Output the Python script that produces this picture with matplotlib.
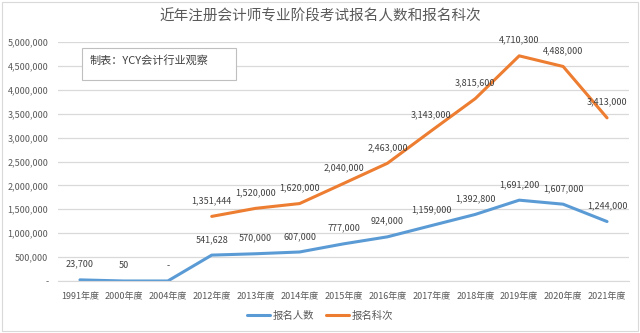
import matplotlib
matplotlib.use("Agg")
from matplotlib import pyplot as plt
from matplotlib.patches import Rectangle

plt.rcParams['font.family'] = ['Noto Sans CJK SC', 'DejaVu Sans']

years = ["1991年度", "2000年度", "2004年度", "2012年度", "2013年度", "2014年度", "2015年度",
         "2016年度", "2017年度", "2018年度", "2019年度", "2020年度", "2021年度"]
applicants = [23700, 50, 0, 541628, 570000, 607000, 777000,
              924000, 1159000, 1392800, 1691200, 1607000, 1244000]
# subject registrations only recorded from 2012
subjects = [None, None, None, 1351444, 1520000, 1620000, 2040000,
            2463000, 3143000, 3815600, 4710300, 4488000, 3413000]

blue = '#5B9BD5'
orange = '#ED7D31'
text_color = '#595959'

fig = plt.figure(figsize=(6.4, 3.33), dpi=100)
ax = fig.add_axes([58 / 640, 1 - 281 / 333, 571 / 640, 239 / 333])

x = list(range(len(years)))
ax.plot(x, applicants, color=blue, linewidth=2.2, label="报名人数", solid_capstyle='round')
xs = [i for i, v in zip(x, subjects) if v is not None]
ys = [v for v in subjects if v is not None]
ax.plot(xs, ys, color=orange, linewidth=2.2, label="报名科次", solid_capstyle='round')

for i, v in zip(x, applicants):
    txt = "-" if v == 0 else f"{v:,}"
    ax.annotate(txt, (i, v), xytext=(0, 8), textcoords='offset points',
                ha='center', va='bottom', fontsize=6.5, color='#404040')
for i, v in zip(xs, ys):
    ax.annotate(f"{v:,}", (i, v), xytext=(0, 8), textcoords='offset points',
                ha='center', va='bottom', fontsize=6.5, color='#404040')

ax.set_xlim(-0.5, len(years) - 0.5)
ax.set_ylim(0, 5000000)
ax.set_yticks(range(0, 5000001, 500000))
ax.set_yticklabels(["-" if v == 0 else f"{v:,}" for v in range(0, 5000001, 500000)])
ax.set_xticks(x)
ax.set_xticklabels(years)
ax.tick_params(axis='both', length=0, labelsize=6.5, labelcolor=text_color)
ax.tick_params(axis='y', pad=7)
ax.tick_params(axis='x', pad=8)
ax.grid(axis='y', color='#D9D9D9', linewidth=0.9)
ax.set_axisbelow(True)
for side in ['top', 'right', 'left']:
    ax.spines[side].set_visible(False)
ax.spines['bottom'].set_color('#D9D9D9')

fig.text(0.5, 1 - 17 / 333, "近年注册会计师专业阶段考试报名人数和报名科次",
         ha='center', va='center', fontsize=10.5, color=text_color)

# source note box
fig.patches.append(Rectangle((82 / 640, 1 - 80 / 333), 154 / 640, 32 / 333,
                             transform=fig.transFigure, facecolor='white',
                             edgecolor='#BFBFBF', linewidth=0.8))
fig.text(90 / 640, 1 - 60 / 333, "制表：YCY会计行业观察", ha='left', va='center',
         fontsize=8, color='#404040')

# chart border
fig.patches.append(Rectangle((2 / 640, 2 / 333), 636 / 640, 329 / 333,
                             transform=fig.transFigure, facecolor='none',
                             edgecolor='#D9D9D9', linewidth=0.8))

fig.legend(loc='center', bbox_to_anchor=(0.5, 1 - 316 / 333), ncol=2, frameon=False,
           fontsize=7.5, labelcolor=text_color, handlelength=2.2, columnspacing=1.2,
           handletextpad=0.2)

fig.savefig("out.png", dpi=100)
